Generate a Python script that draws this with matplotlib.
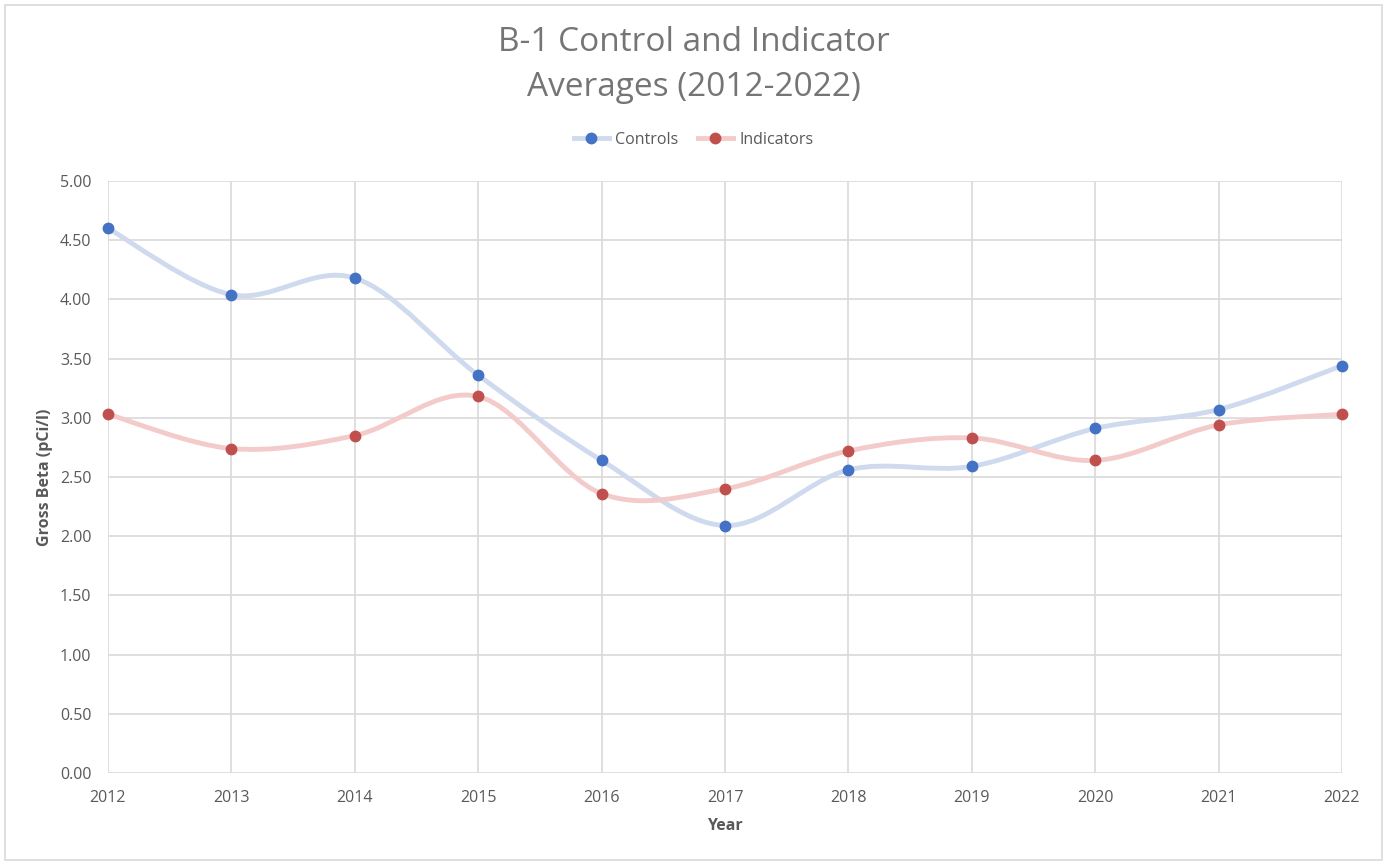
import matplotlib.pyplot as plt
from matplotlib.path import Path
from matplotlib.patches import PathPatch, Rectangle

years = [2012, 2013, 2014, 2015, 2016, 2017, 2018, 2019, 2020, 2021, 2022]
controls = [4.60, 4.04, 4.18, 3.36, 2.64, 2.09, 2.56, 2.59, 2.91, 3.07, 3.44]
indicators = [3.03, 2.74, 2.85, 3.18, 2.36, 2.40, 2.72, 2.83, 2.64, 2.94, 3.03]
yticks = [0.0, 0.5, 1.0, 1.5, 2.0, 2.5, 3.0, 3.5, 4.0, 4.5, 5.0]

GRAY = "#595959"
plt.rcParams["font.family"] = ["Open Sans", "DejaVu Sans"]


def smooth_path(xs, ys):
    # excel-like smoothed line, bezier segments through the data points
    n = len(xs)
    verts = [(xs[0], ys[0])]
    codes = [Path.MOVETO]
    for i in range(n - 1):
        a = max(i - 1, 0)
        d = min(i + 2, n - 1)
        c1 = (xs[i] + (xs[i + 1] - xs[a]) / 6, ys[i] + (ys[i + 1] - ys[a]) / 6)
        c2 = (xs[i + 1] - (xs[d] - xs[i]) / 6, ys[i + 1] - (ys[d] - ys[i]) / 6)
        verts += [c1, c2, (xs[i + 1], ys[i + 1])]
        codes += [Path.CURVE4] * 3
    return Path(verts, codes)


fig = plt.figure(figsize=(13.87, 8.65), dpi=100)
fig.patches.append(Rectangle((5 / 1387, 5 / 865), 1377 / 1387, 855 / 865,
                             transform=fig.transFigure, fill=False,
                             edgecolor="#d9d9d9", linewidth=1.2))
ax = fig.add_axes([108 / 1387, 1 - 773 / 865, 1234 / 1387, 592 / 865])

series = [
    ("Controls", controls, "#4472c4", "#cfdaee"),
    ("Indicators", indicators, "#c0504d", "#f3cbca"),
]
for name, vals, mcol, lcol in series:
    ax.add_patch(PathPatch(smooth_path(years, vals), facecolor="none",
                           edgecolor=lcol, linewidth=3.5, zorder=2,
                           clip_on=False))
    ax.plot(years, vals, linestyle="none", marker="o", markersize=7.5,
            color=mcol, zorder=3, clip_on=False)
    # legend handle
    ax.plot([], [], color=lcol, linewidth=3.5, marker="o", markersize=7.5,
            markerfacecolor=mcol, markeredgecolor=mcol, label=name)

ax.set_xlim(2012, 2022)
ax.set_ylim(0, 5)
ax.set_xticks(years)
ax.set_xticklabels([str(y) for y in years])
ax.set_yticks(yticks)
ax.set_yticklabels(["%.2f" % v for v in yticks])
ax.grid(True, color="#d9d9d9", linewidth=1.2)
ax.set_axisbelow(True)
for side in ax.spines.values():
    side.set_visible(False)
ax.tick_params(length=0, colors=GRAY, labelsize=11.5)
ax.tick_params(axis="x", pad=12)
ax.tick_params(axis="y", pad=12)

ax.set_xlabel("Year", color=GRAY, fontsize=11.5, fontweight="bold", labelpad=9)
ax.set_ylabel("Gross Beta (pCi/l)", color=GRAY, fontsize=11.5,
              fontweight="bold", labelpad=5)

fig.text(0.5, 1 - 65 / 865, "B-1 Control and Indicator\nAverages (2012-2022)",
         ha="center", va="center", fontsize=24, color="#757575",
         linespacing=1.5)
fig.legend(loc="center", bbox_to_anchor=(0.5, 1 - 140 / 865), ncol=2,
           frameon=False, fontsize=11.5, labelcolor=GRAY, handlelength=2.2,
           columnspacing=1.2, handletextpad=0.4)

fig.savefig("out.png", dpi=100, facecolor="white")
